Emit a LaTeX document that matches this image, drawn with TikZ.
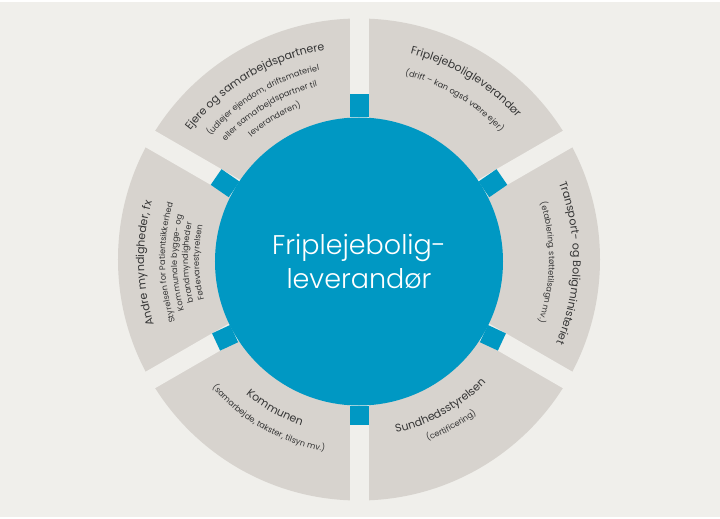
\documentclass[tikz,border=0pt]{standalone}
\usepackage{fontspec}
\setmainfont{Poppins}
\newfontfamily\hubfont{Poppins Light}
\usetikzlibrary{decorations.text}

\definecolor{paper}{HTML}{F0EFEB}
\definecolor{sector}{HTML}{D7D3CE}
\definecolor{hubblue}{HTML}{0098C3}
\definecolor{ink}{HTML}{353535}

\newcommand{\headfont}{\fontsize{11}{13}\selectfont\color{ink}}
\newcommand{\notefont}{\fontsize{8.2}{10}\selectfont\color{ink}}

% text bent along the ring: tops outward (clockwise) or tops inward (counter-clockwise)
\newcommand{\ringtextout}[4]{%
  \path[decorate, decoration={text along path, text align=center, text={|#3|#4}}]
    (#1+32:#2) arc[start angle=#1+32, end angle=#1-32, radius=#2];}
\newcommand{\ringtextin}[4]{%
  \path[decorate, decoration={text along path, text align=center, text={|#3|#4}}]
    (#1-32:#2) arc[start angle=#1-32, end angle=#1+32, radius=#2];}

\begin{document}
\begin{tikzpicture}[
  gap/.style={draw=paper, line width=19pt},
  stub/.style={draw=hubblue, line width=19pt},
  hub/.style={
    circle,
    fill=hubblue,
    minimum size=288pt,
    inner sep=0pt,
    text=white,
    align=center,
    font=\hubfont\fontsize{27}{34}\selectfont,
  },
]
% --- canvas ---
\fill[paper] (-359pt,-257pt) rectangle (361pt,257pt);

% --- ring of six fields ---
\fill[sector] (0,0) circle[radius=241pt];
\foreach \a in {30,90,150}
  \draw[gap] (\a:250pt) -- (\a+180:250pt);

% --- centre ---
\node[hub] (hub) at (0,-2pt) {Friplejebolig-\\leverandør};
\foreach \a in {30,90,...,330}
  \draw[stub] (hub.\a) -- (\a:165pt);

% --- Ejere ---
\ringtextout{121}{212pt}{\headfont}{Ejere og samarbejdspartnere}
\ringtextout{121}{193pt}{\notefont}{(udlejer ejendom, driftsmateriel}
\ringtextout{121}{178pt}{\notefont}{eller samarbejdspartner til}
\ringtextout{121}{163pt}{\notefont}{leverandøren)}

% --- Friplejeboligleverandør ---
\ringtextout{59}{212pt}{\headfont}{Friplejeboligleverandør}
\ringtextout{59}{190pt}{\notefont}{(drift – kan også være ejer)}

% --- Transport ---
\ringtextout{-1}{214pt}{\headfont}{Transport- og Boligministeriet}
\ringtextout{-1}{190pt}{\notefont}{(etablering, støttetilsagn mv.)}

% --- Andre myndigheder ---
\ringtextout{181}{215pt}{\headfont}{Andre myndigheder, fx}
\ringtextout{181}{194pt}{\notefont}{Styrelsen for Patientsikkerhed}
\ringtextout{181}{182pt}{\notefont}{Kommunale bygge- og}
\ringtextout{181}{171pt}{\notefont}{brandmyndigheder}
\ringtextout{181}{160pt}{\notefont}{Fødevarestyrelsen}

% --- Kommunen ---
\ringtextin{240.5}{176pt}{\headfont}{Kommunen}
\ringtextin{240.5}{195pt}{\notefont}{(samarbejde, takster, tilsyn mv.)}

% --- Sundhedsstyrelsen ---
\ringtextin{299}{177pt}{\headfont}{Sundhedsstyrelsen}
\ringtextin{299}{194pt}{\notefont}{(certificering)}
\end{tikzpicture}
\end{document}
